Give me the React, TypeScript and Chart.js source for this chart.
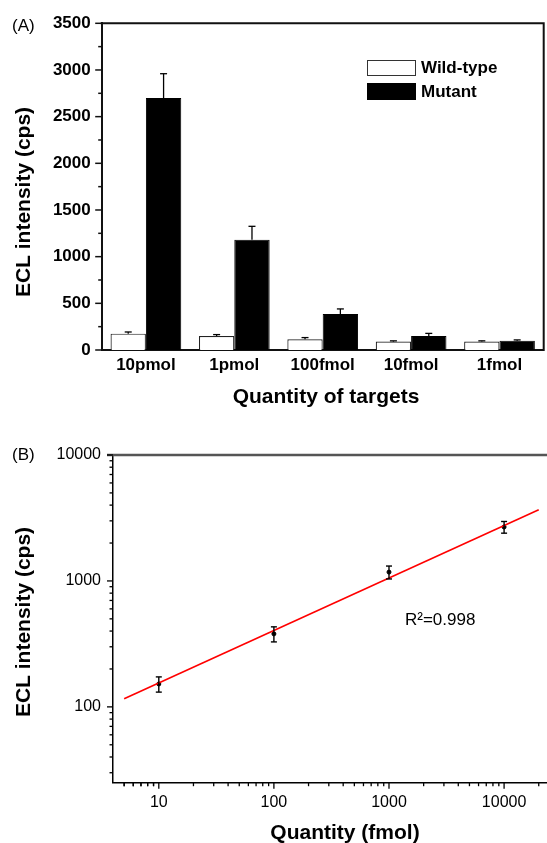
import { useEffect, useRef } from 'react';
import { Chart, registerables } from 'chart.js';

Chart.register(...registerables);

// ---------- Panel (A) data ----------
const categories = ['10pmol', '1pmol', '100fmol', '10fmol', '1fmol'];
const wildType = [175, 150, 115, 90, 90];
const wildTypeErr = [18, 15, 18, 8, 8];
const mutant = [2700, 1180, 385, 150, 100];
const mutantErr = [260, 145, 55, 28, 8];
const yTicksA = [0, 500, 1000, 1500, 2000, 2500, 3000, 3500];
const yMinorA = [250, 750, 1250, 1750, 2250, 2750, 3250];

// ---------- Panel (B) data ----------
const quantityB = [10, 100, 1000, 10000];
const eclB = [152, 380, 1175, 2680];
const eclErrB = [21, 52, 138, 285];
const fitX = [5, 20000];
const fitY = [116, 3680];
const xTicksB = [10, 100, 1000, 10000];
const yTicksB = [100, 1000, 10000];
const decadesB = [1, 10, 100, 1000, 10000];
const minorMultipliers = [2, 3, 4, 5, 6, 7, 8, 9];

const FONT = '"Liberation Sans", Arial, sans-serif';

function line(ctx: CanvasRenderingContext2D, x1: number, y1: number, x2: number, y2: number) {
  ctx.beginPath();
  ctx.moveTo(x1, y1);
  ctx.lineTo(x2, y2);
  ctx.stroke();
}

function drawRotatedText(ctx: CanvasRenderingContext2D, text: string, x: number, y: number) {
  ctx.save();
  ctx.translate(x, y);
  ctx.rotate(-Math.PI / 2);
  ctx.textAlign = 'center';
  ctx.textBaseline = 'middle';
  ctx.fillText(text, 0, 0);
  ctx.restore();
}

const panelAPlugin = {
  id: 'panelA',
  afterDraw(chart: any) {
    const ctx: CanvasRenderingContext2D = chart.ctx;
    const { left, right, top, bottom } = chart.chartArea;
    const ys = chart.scales.y;
    ctx.save();
    ctx.strokeStyle = '#111';
    ctx.lineWidth = 2;
    // frame top & right
    ctx.beginPath();
    ctx.moveTo(left - 1, top);
    ctx.lineTo(right, top);
    ctx.lineTo(right, bottom + 1);
    ctx.stroke();
    // y ticks (outward)
    ctx.lineWidth = 1.5;
    yTicksA.forEach((v) => {
      const py = ys.getPixelForValue(v);
      line(ctx, left - 6.5, py, left, py);
    });
    yMinorA.forEach((v) => {
      const py = ys.getPixelForValue(v);
      line(ctx, left - 3.5, py, left, py);
    });
    // error bars (upper only)
    const sets: [number, number[], number[]][] = [
      [0, wildType, wildTypeErr],
      [1, mutant, mutantErr],
    ];
    ctx.strokeStyle = '#000';
    ctx.lineWidth = 1.3;
    sets.forEach(([di, vals, errs]) => {
      const meta = chart.getDatasetMeta(di);
      meta.data.forEach((bar: any, i: number) => {
        const px = bar.x;
        const pBase = ys.getPixelForValue(vals[i]);
        const pTop = ys.getPixelForValue(vals[i] + errs[i]);
        line(ctx, px, pBase, px, pTop);
        line(ctx, px - 3.5, pTop, px + 3.5, pTop);
      });
    });
    // legend
    const lx = 367;
    const lw = 48;
    ctx.lineWidth = 1;
    ctx.fillStyle = '#fff';
    ctx.fillRect(lx, 60, lw, 15);
    ctx.strokeStyle = '#333';
    ctx.strokeRect(lx + 0.5, 60.5, lw, 15);
    ctx.fillStyle = '#000';
    ctx.fillRect(lx, 83, lw + 1, 17);
    ctx.font = `bold 17px ${FONT}`;
    ctx.textAlign = 'left';
    ctx.textBaseline = 'middle';
    ctx.fillText('Wild-type', 421, 68.5);
    ctx.fillText('Mutant', 421, 92);
    // panel label
    ctx.font = `17px ${FONT}`;
    ctx.fillText('(A)', 12, 26);
    // axis titles
    ctx.font = `bold 21px ${FONT}`;
    drawRotatedText(ctx, 'ECL intensity (cps)', 24.5, 202);
    ctx.textAlign = 'center';
    ctx.fillText('Quantity of targets', 326, 397);
    ctx.restore();
  },
};

const panelBPlugin = {
  id: 'panelB',
  afterDraw(chart: any) {
    const ctx: CanvasRenderingContext2D = chart.ctx;
    const { left, top, bottom } = chart.chartArea;
    const xs = chart.scales.x;
    const ys = chart.scales.y;
    ctx.save();
    // top frame line
    ctx.strokeStyle = '#555';
    ctx.lineWidth = 2.5;
    line(ctx, left - 6, top, chart.width, top);
    // ticks
    ctx.strokeStyle = '#000';
    ctx.lineWidth = 1.3;
    yTicksB.forEach((v) => {
      const py = ys.getPixelForValue(v);
      line(ctx, left - 6, py, left, py);
    });
    decadesB.forEach((d) => {
      minorMultipliers.forEach((m) => {
        const v = d * m;
        if (v > ys.min && v < ys.max) {
          const py = ys.getPixelForValue(v);
          line(ctx, left - 3.5, py, left, py);
        }
      });
    });
    xTicksB.forEach((v) => {
      const px = xs.getPixelForValue(v);
      line(ctx, px, bottom, px, bottom + 6);
    });
    [1, ...decadesB].forEach((d) => {
      minorMultipliers.forEach((m) => {
        const v = d * m;
        if (v > xs.min && v < xs.max) {
          const px = xs.getPixelForValue(v);
          line(ctx, px, bottom, px, bottom + 3.5);
        }
      });
    });
    // error bars
    ctx.lineWidth = 1.4;
    quantityB.forEach((q, i) => {
      const px = xs.getPixelForValue(q);
      const pHi = ys.getPixelForValue(eclB[i] + eclErrB[i]);
      const pLo = ys.getPixelForValue(eclB[i] - eclErrB[i]);
      line(ctx, px, pLo, px, pHi);
      line(ctx, px - 3, pHi, px + 3, pHi);
      line(ctx, px - 3, pLo, px + 3, pLo);
    });
    // R^2 annotation
    ctx.fillStyle = '#000';
    ctx.font = `17px ${FONT}`;
    ctx.textAlign = 'left';
    ctx.textBaseline = 'middle';
    ctx.fillText('R\u00B2=0.998', 405, 200);
    // panel label
    ctx.fillText('(B)', 12, 35);
    // titles
    ctx.font = `bold 21px ${FONT}`;
    drawRotatedText(ctx, 'ECL intensity (cps)', 24.5, 202);
    ctx.textAlign = 'center';
    ctx.fillText('Quantity (fmol)', 345, 413);
    ctx.restore();
  },
};

export default function App() {
  const refA = useRef<HTMLCanvasElement | null>(null);
  const refB = useRef<HTMLCanvasElement | null>(null);

  useEffect(() => {
    const chartA = new Chart(refA.current as HTMLCanvasElement, {
      type: 'bar',
      data: {
        labels: categories,
        datasets: [
          {
            label: 'Wild-type',
            data: wildType,
            backgroundColor: '#ffffff',
            borderColor: '#222',
            borderWidth: 1.2,
            categoryPercentage: 0.8,
            barPercentage: 1,
          },
          {
            label: 'Mutant',
            data: mutant,
            backgroundColor: '#000000',
            borderColor: '#000',
            borderWidth: 1,
            categoryPercentage: 0.8,
            barPercentage: 1,
          },
        ],
      },
      options: {
        animation: false,
        responsive: false,
        maintainAspectRatio: false,
        layout: { padding: { left: 0, right: 3.3, top: 23.3, bottom: 0 } },
        plugins: { legend: { display: false }, tooltip: { enabled: false } },
        scales: {
          x: {
            type: 'category',
            grid: { display: false, drawTicks: false },
            border: { display: true, color: '#111', width: 2 },
            ticks: {
              color: '#000',
              font: { family: FONT, size: 17, weight: 'bold' },
              padding: 5,
              maxRotation: 0,
            },
            afterFit: (s: any) => {
              s.height = 70;
            },
          },
          y: {
            type: 'linear',
            min: 0,
            max: 3500,
            afterBuildTicks: (s: any) => {
              s.ticks = yTicksA.map((v) => ({ value: v }));
            },
            grid: { display: false, drawTicks: false },
            border: { display: true, color: '#111', width: 2 },
            ticks: {
              color: '#000',
              font: { family: FONT, size: 17, weight: 'bold' },
              padding: 11,
              callback: (v: any) => String(v),
            },
            afterFit: (s: any) => {
              s.width = 101.7;
            },
          },
        },
      } as any,
      plugins: [panelAPlugin],
    });

    const chartB = new Chart(refB.current as HTMLCanvasElement, {
      type: 'scatter',
      data: {
        datasets: [
          {
            type: 'line',
            label: 'Fit',
            data: fitX.map((x, i) => ({ x, y: fitY[i] })),
            borderColor: '#ff0000',
            borderWidth: 1.6,
            pointRadius: 0,
            fill: false,
          } as any,
          {
            label: 'Mutant',
            data: quantityB.map((x, i) => ({ x, y: eclB[i] })),
            backgroundColor: '#000',
            borderColor: '#000',
            pointRadius: 2,
          },
        ],
      },
      options: {
        animation: false,
        responsive: false,
        maintainAspectRatio: false,
        layout: { padding: { left: 0, right: 23, top: 35, bottom: 0 } },
        plugins: { legend: { display: false }, tooltip: { enabled: false } },
        scales: {
          x: {
            type: 'logarithmic',
            min: 4,
            max: 43000,
            afterBuildTicks: (s: any) => {
              s.ticks = xTicksB.map((v) => ({ value: v }));
            },
            grid: { display: false, drawTicks: false },
            border: { display: true, color: '#000', width: 1.5 },
            ticks: {
              color: '#000',
              font: { family: FONT, size: 16 },
              padding: 10,
              maxRotation: 0,
              autoSkip: false,
              callback: (v: any) => String(v),
            },
            afterFit: (s: any) => {
              s.height = 60.3;
            },
          },
          y: {
            type: 'logarithmic',
            min: 25,
            max: 10000,
            afterBuildTicks: (s: any) => {
              s.ticks = yTicksB.map((v) => ({ value: v }));
            },
            grid: { display: false, drawTicks: false },
            border: { display: true, color: '#000', width: 1.5 },
            ticks: {
              color: '#000',
              font: { family: FONT, size: 16 },
              padding: 12,
              autoSkip: false,
              callback: (v: any) => String(v),
            },
            afterFit: (s: any) => {
              s.width = 113;
            },
          },
        },
      } as any,
      plugins: [panelBPlugin],
    });

    return () => {
      chartA.destroy();
      chartB.destroy();
    };
  }, []);

  return (
    <div
      style={{
        position: 'absolute',
        left: 0,
        top: 0,
        width: 547,
        height: 843,
        overflow: 'hidden',
        background: '#fff',
      }}
    >
      <canvas
        ref={refA}
        width={547}
        height={420}
        style={{ position: 'absolute', left: 0, top: 0, width: 547, height: 420 }}
      />
      <canvas
        ref={refB}
        width={600}
        height={423}
        style={{ position: 'absolute', left: 0, top: 420, width: 600, height: 423 }}
      />
    </div>
  );
}
